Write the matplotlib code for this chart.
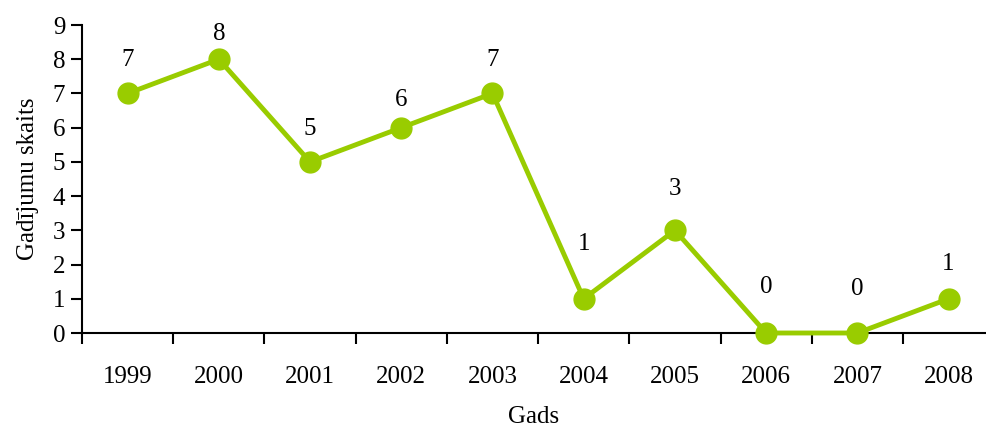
import numpy as np
import matplotlib.pyplot as plt

plt.rcParams['font.family'] = ['Liberation Serif', 'DejaVu Serif']

years = ['1999', '2000', '2001', '2002', '2003', '2004', '2005', '2006', '2007', '2008']
cases = [7, 8, 5, 6, 7, 1, 3, 0, 0, 1]
# vertical gap between point and its label, in pixels
label_gap = [33, 25, 33, 28, 33, 55, 41, 46, 44, 35]

fig = plt.figure(figsize=(9.86, 4.3), dpi=100)
ax = fig.add_axes([82 / 986, 97 / 430, 1 - 82 / 986, 308 / 430])

x = np.arange(len(years))
ax.plot(x, cases, '-o', color='#99cc00', linewidth=3.5, markersize=15, clip_on=False, zorder=3)

for xi, v, g in zip(x, cases, label_gap):
    ax.annotate(str(v), (xi, v), xytext=(0, g * 0.72), textcoords='offset points',
                ha='center', va='center', fontsize=18)

ax.set_xlim(-0.5, 9.41)
ax.set_ylim(0, 9)
ax.set_yticks(range(10))
ax.set_xticks(np.arange(-0.5, 9.5, 1))
ax.set_xticklabels([])
ax.set_xticks(x, minor=True)
ax.set_xticklabels(years, minor=True)
ax.tick_params(axis='x', which='minor', length=0, pad=24, labelsize=18)
ax.tick_params(axis='x', which='major', length=8, width=1.5, direction='out')
ax.tick_params(axis='y', length=8, width=1.5, direction='out', labelsize=18, pad=4)

for s in ['top', 'right']:
    ax.spines[s].set_visible(False)
for s in ['left', 'bottom']:
    ax.spines[s].set_linewidth(1.5)

ax.set_xlabel('Gads', fontsize=18, labelpad=13)
ax.set_ylabel('Gadījumu skaits', fontsize=18, labelpad=10)

fig.savefig('out.png', dpi=100)
